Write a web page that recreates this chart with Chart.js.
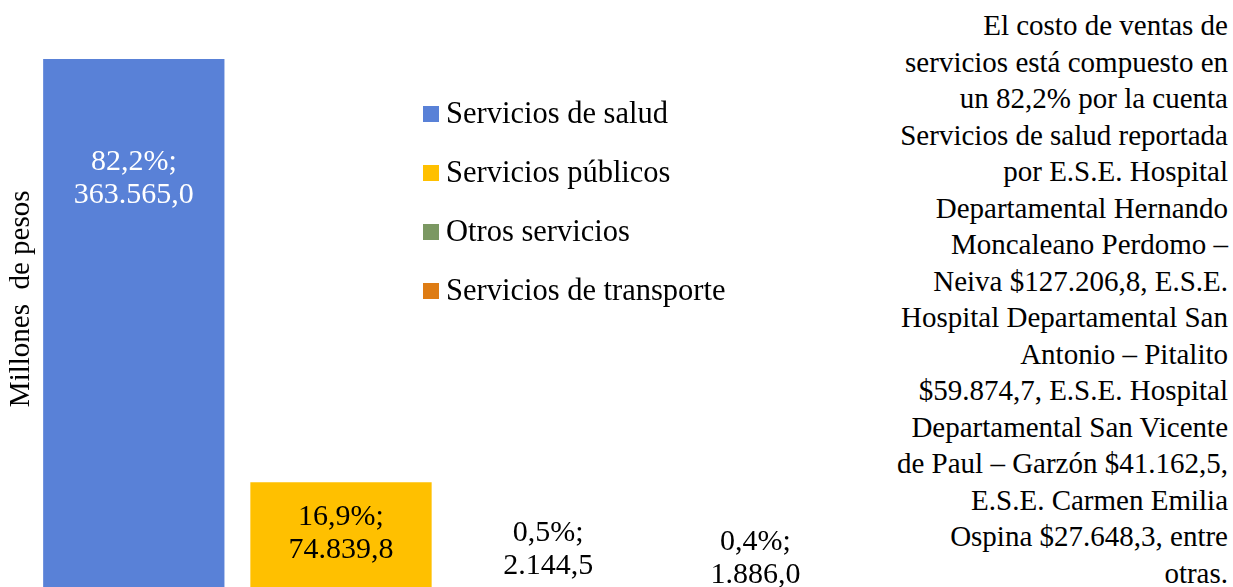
<!DOCTYPE html>
<html>
<head>
<meta charset="utf-8">
<script src="https://cdn.jsdelivr.net/npm/chart.js@4.4.0/dist/chart.umd.min.js"></script>
<style>
html, body { margin: 0; padding: 0; background: #fff; width: 1233px; height: 587px; overflow: hidden; }
#chartBox { position: absolute; left: 0; top: 0; width: 880px; height: 592px; }
#nota {
    position: absolute; right: 5px; top: 7px;
    font-family: "Liberation Serif", "Times New Roman", serif;
    font-size: 29px; line-height: 36.5px; text-align: right; color: #000;
    white-space: nowrap;
}
</style>
</head>
<body>
<div id="chartBox"><canvas id="costoGraph"></canvas></div>
<div id="nota"></div>
<script>
// valores en millones de pesos
var cuentas = ['Servicios de salud', 'Servicios públicos', 'Otros servicios', 'Servicios de transporte']
var valores = [363565.0, 74839.8, 2144.5, 1886.0]
var porcentajes = [82.2, 16.9, 0.5, 0.4]
var colores = ['#5981D7', '#FFC000', '#7B9862', '#DE7C14']

var notaLineas = [
    'El costo de ventas de',
    'servicios está compuesto en',
    'un 82,2% por la cuenta',
    'Servicios de salud reportada',
    'por E.S.E. Hospital',
    'Departamental Hernando',
    'Moncaleano Perdomo –',
    'Neiva $127.206,8, E.S.E.',
    'Hospital Departamental San',
    'Antonio – Pitalito',
    '$59.874,7, E.S.E. Hospital',
    'Departamental San Vicente',
    'de Paul – Garzón $41.162,5,',
    'E.S.E. Carmen Emilia',
    'Ospina $27.648,3, entre',
    'otras.'
]

document.getElementById('nota').innerHTML = notaLineas.join('<br>')

var serif = '"Liberation Serif", "Times New Roman", serif'

function formato(v) {
    var partes = v.toFixed(1).split('.')
    partes[0] = partes[0].replace(/\B(?=(\d{3})+(?!\d))/g, '.')
    return partes[0] + ',' + partes[1]
}

// etiquetas de datos dibujadas sobre cada barra
var etiquetasPlugin = {
    id: 'etiquetas',
    afterDatasetsDraw: function(chart, args, opts) {
        var ctx = chart.ctx
        ctx.save()
        ctx.font = opts.size + 'px ' + serif
        ctx.textAlign = 'center'
        ctx.textBaseline = 'middle'
        chart.data.datasets.forEach(function(ds, i) {
            var bar = chart.getDatasetMeta(i).data[i]
            var y = bar.y + opts.offsets[i]
            ctx.fillStyle = i == 0 ? '#ffffff' : '#000000'
            ctx.fillText(porcentajes[i].toFixed(1).replace('.', ',') + '%;', bar.x, y)
            ctx.fillText(formato(valores[i]), bar.x, y + opts.lineGap)
        })
        ctx.restore()
    }
}

// leyenda dentro del area del grafico
var leyendaPlugin = {
    id: 'leyenda',
    afterDraw: function(chart, args, opts) {
        var ctx = chart.ctx
        ctx.save()
        ctx.font = opts.size + 'px ' + serif
        ctx.textBaseline = 'middle'
        chart.data.datasets.forEach(function(ds, i) {
            var y = opts.y + i * opts.step
            ctx.fillStyle = ds.backgroundColor
            ctx.fillRect(opts.x, y - opts.box / 2, opts.box, opts.box)
            ctx.fillStyle = '#000'
            ctx.fillText(ds.label, opts.x + opts.box + 7, y + 1)
        })
        ctx.restore()
    }
}

var datasets = cuentas.map(function(c, i) {
    var d = cuentas.map(function() { return null })
    d[i] = valores[i]
    return {
        label: c,
        data: d,
        backgroundColor: colores[i],
        grouped: false,
        barPercentage: 0.875,
        categoryPercentage: 1
    }
})

var ctx = document.getElementById('costoGraph').getContext('2d')
var costoGraph = new Chart(ctx, {
    type: 'bar',
    data: { labels: cuentas, datasets: datasets },
    options: {
        responsive: true,
        maintainAspectRatio: false,
        animation: false,
        layout: { padding: { left: 12.8, right: 21, top: 5.6, bottom: 0 } },
        scales: {
            x: { display: false },
            y: {
                min: 0,
                max: 400000,
                ticks: { display: false },
                grid: { display: false, drawTicks: false },
                border: { display: false },
                title: {
                    display: true,
                    text: 'Millones  de pesos',
                    color: '#000',
                    font: { family: serif, size: 29, lineHeight: 0.6 },
                    padding: { top: 0, bottom: 0 }
                }
            }
        },
        plugins: {
            legend: { display: false },
            tooltip: { enabled: false },
            etiquetas: { size: 30, lineGap: 33, offsets: [103, 35, -56, -47] },
            leyenda: { x: 423, y: 114, step: 59, box: 16, size: 30.5 }
        }
    },
    plugins: [etiquetasPlugin, leyendaPlugin]
})
</script>
</body>
</html>
